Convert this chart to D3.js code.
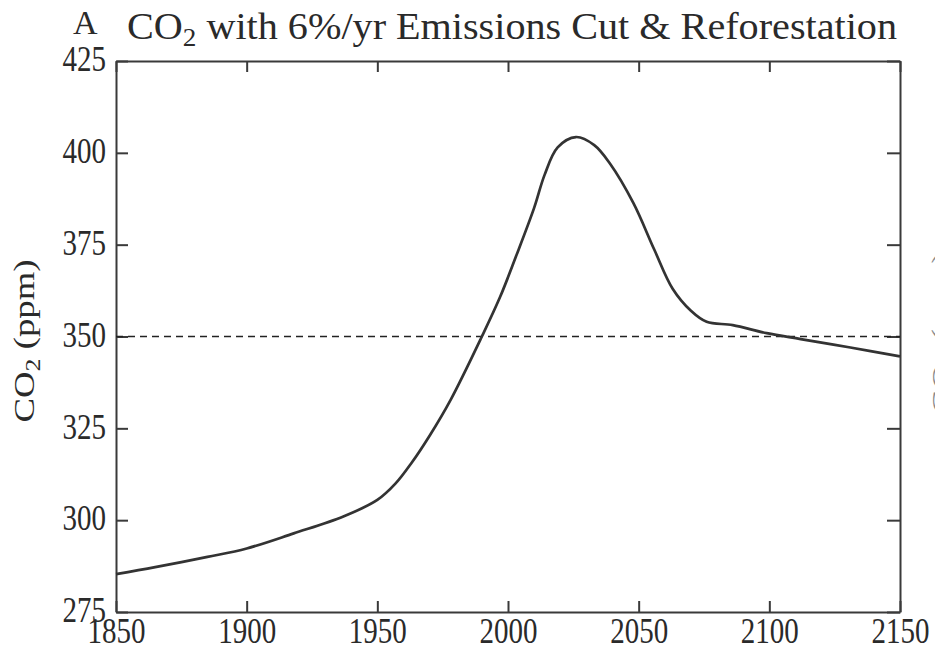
<!DOCTYPE html>
<html>
<head>
<meta charset="utf-8">
<script src="https://cdn.jsdelivr.net/npm/d3@7"></script>
<style>
  html, body { margin: 0; padding: 0; background: #fff; }
  svg { display: block; }
  text { font-family: "Liberation Serif", "Times New Roman", serif; fill: #2a2a2a; }
</style>
</head>
<body>
<svg id="chart" width="935" height="652"></svg>
<script>
// ---- data ----
const years = [1850, 1865, 1885, 1900, 1918, 1937, 1950, 1957, 1963, 1970, 1978, 1990, 1997, 2003, 2010, 2014, 2019, 2026, 2033, 2039, 2048, 2056, 2063, 2070, 2076, 2086, 2099, 2112, 2131, 2150];
const co2 = [285.3, 287.2, 290.0, 292.3, 296.4, 301.0, 305.5, 310.0, 315.5, 323.0, 332.7, 350.0, 360.8, 371.7, 385.0, 394.0, 401.5, 404.3, 402.1, 397.1, 386.3, 373.6, 363.0, 357.0, 354.0, 353.1, 350.9, 349.3, 347.0, 344.6];
const referenceLevel = 350;
const xTicks = [1850, 1900, 1950, 2000, 2050, 2100, 2150];
const yTicks = [275, 300, 325, 350, 375, 400, 425];
const panelLabel = "A";
const titleMain = "CO";
const titleRest = " with 6%/yr Emissions Cut & Reforestation";
const yLabelMain = "CO";
const yLabelRest = " (ppm)";

// ---- layout ----
const svg = d3.select("#chart");
const L = 116, R = 900, T = 61, B = 612;
const x = d3.scaleLinear().domain([1850, 2150]).range([L, R]);
const y = d3.scaleLinear().domain([275, 425]).range([B, T]);
const ink = "#3a3a3a";

// axes
const gB = svg.append("g").attr("transform", `translate(0,${B})`)
  .call(d3.axisBottom(x).tickValues(xTicks).tickFormat(d3.format("d")).tickSizeInner(-11).tickSizeOuter(0).tickPadding(10));
const gL = svg.append("g").attr("transform", `translate(${L},0)`)
  .call(d3.axisLeft(y).tickValues(yTicks).tickSizeInner(-12).tickSizeOuter(0).tickPadding(10));
const gT = svg.append("g").attr("transform", `translate(0,${T})`)
  .call(d3.axisTop(x).tickValues(xTicks).tickFormat("").tickSizeInner(-11).tickSizeOuter(0));
const gR = svg.append("g").attr("transform", `translate(${R},0)`)
  .call(d3.axisRight(y).tickValues(yTicks).tickFormat("").tickSizeInner(-13).tickSizeOuter(0));

[gB, gL, gT, gR].forEach(g => {
  g.attr("font-family", null);
  g.select(".domain").attr("stroke", ink).attr("stroke-width", 2);
  g.selectAll(".tick line").attr("stroke", ink).attr("stroke-width", 2);
  g.selectAll("text").attr("fill", "#2a2a2a");
});
gB.selectAll(".tick text").attr("font-size", 29).attr("dy", "0.55em")
  .attr("transform", "scale(1,1.2)");
gL.selectAll(".tick text").attr("font-size", 29).attr("dy", "0.28em")
  .attr("transform", "scale(1,1.2)").attr("y", 0);

// reference dashed line
svg.append("line")
  .attr("x1", x(1850)).attr("x2", x(2150))
  .attr("y1", y(referenceLevel)).attr("y2", y(referenceLevel))
  .attr("stroke", "#222").attr("stroke-width", 1.6)
  .attr("stroke-dasharray", "7,5");

// CO2 curve
const line = d3.line().x((d, i) => x(years[i])).y(d => y(d)).curve(d3.curveCatmullRom.alpha(0.5));
svg.append("path").datum(co2)
  .attr("d", line)
  .attr("fill", "none").attr("stroke", "#333").attr("stroke-width", 2.7)
  .attr("stroke-linejoin", "round");

// panel label
svg.append("text").attr("x", 73).attr("y", 34).attr("font-size", 34).text(panelLabel);

// title
const title = svg.append("text").attr("x", 127).attr("y", 39).attr("font-size", 37)
  .attr("textLength", 770).attr("lengthAdjust", "spacingAndGlyphs");
title.append("tspan").text(titleMain);
title.append("tspan").attr("font-size", 25).attr("dy", 7).text("2");
title.append("tspan").attr("dy", -7).text(titleRest);

// y label
function yLabel(cx, cy, color) {
  const t = svg.append("text")
    .attr("transform", `translate(${cx},${cy}) rotate(-90)`)
    .attr("text-anchor", "middle").attr("font-size", 30)
    .attr("textLength", 163).attr("lengthAdjust", "spacingAndGlyphs")
    .style("fill", color);
  t.append("tspan").text(yLabelMain);
  t.append("tspan").attr("font-size", 21).attr("dy", 6).text("2");
  t.append("tspan").attr("dy", -6).text(yLabelRest);
}
yLabel(34, 341, "#2a2a2a");
// clipped label of the neighbouring panel at the right edge
yLabel(952, 333, "#8a8a8a");
</script>
</body>
</html>
